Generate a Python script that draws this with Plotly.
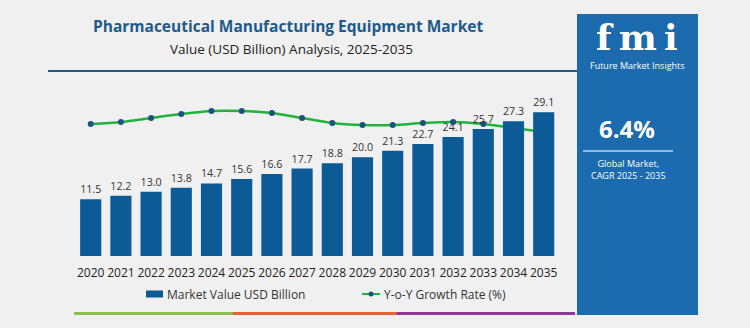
import plotly.graph_objects as go

# Market size and year-on-year growth
years = ["2020", "2021", "2022", "2023", "2024", "2025", "2026", "2027",
         "2028", "2029", "2030", "2031", "2032", "2033", "2034", "2035"]
market_value = [11.5, 12.2, 13.0, 13.8, 14.7, 15.6, 16.6, 17.7,
                18.8, 20.0, 21.3, 22.7, 24.1, 25.7, 27.3, 29.1]
yoy_growth = [6.2, 6.4, 6.8, 7.2, 7.5, 7.5, 7.3, 6.8,
              6.3, 6.1, 6.1, 6.3, 6.4, 6.2, 5.8, 5.4]

cagr_text = "6.4%"

W, H = 750, 328
BG = "#f0f0f0"
BAR = "#0d5b96"
PANEL = "#1b6bae"
GREEN = "#1fb33a"
NAVY = "#1d4f80"
FONT = "Open Sans"


def px(x):
    return x / W


def py(y):
    return 1 - y / H


fig = go.Figure()

# growth line on the primary axis so the bars (overlaying axis) sit above it
fig.add_trace(go.Scatter(
    x=years, y=yoy_growth, mode="lines+markers", yaxis="y",
    line=dict(color=GREEN, width=2.5, shape="spline", smoothing=0.8),
    marker=dict(color=NAVY, size=6),
    showlegend=False, hoverinfo="skip",
))

fig.add_trace(go.Bar(
    x=years, y=market_value, yaxis="y2",
    marker=dict(color=BAR, line=dict(width=0)),
    text=[f"{v:.1f}" for v in market_value], texttemplate="%{text}",
    textposition="outside", cliponaxis=False,
    textfont=dict(family=FONT, size=11, color="#333333"),
    showlegend=False, hoverinfo="skip",
))

shapes = []
annotations = []

# side panel
shapes.append(dict(type="rect", xref="paper", yref="paper",
                   x0=px(577), x1=px(698), y0=py(315), y1=py(14),
                   fillcolor=PANEL, line=dict(width=0), layer="below"))
# rule under the headings
shapes.append(dict(type="line", xref="paper", yref="paper",
                   x0=px(48), x1=px(577), y0=py(71), y1=py(71),
                   line=dict(color="#1d5a8c", width=2)))
# coloured footer rule
for x0, x1, c in [(74, 233, "#8dbf4e"), (233, 397, "#e2633a"), (397, 575, "#8e3b97")]:
    shapes.append(dict(type="line", xref="paper", yref="paper",
                       x0=px(x0), x1=px(x1), y0=py(313.5), y1=py(313.5),
                       line=dict(color=c, width=3)))
# rule under CAGR value
shapes.append(dict(type="line", xref="paper", yref="paper",
                   x0=px(583), x1=px(673), y0=py(151), y1=py(151),
                   line=dict(color="#8fb9e0", width=2)))

# legend
shapes.append(dict(type="rect", xref="paper", yref="paper",
                   x0=px(146), x1=px(163), y0=py(297.5), y1=py(290.5),
                   fillcolor=BAR, line=dict(width=0)))
shapes.append(dict(type="line", xref="paper", yref="paper",
                   x0=px(362), x1=px(380), y0=py(294), y1=py(294),
                   line=dict(color=GREEN, width=2)))
shapes.append(dict(type="circle", xref="paper", yref="paper",
                   x0=px(368.5), x1=px(373.5), y0=py(296.5), y1=py(291.5),
                   fillcolor=NAVY, line=dict(width=0)))
annotations.append(dict(text="Market Value USD Billion", xref="paper", yref="paper",
                        x=px(165), y=py(294), xanchor="left", yanchor="middle",
                        showarrow=False, font=dict(family=FONT, size=12, color="#333333")))
annotations.append(dict(text="Y-o-Y Growth Rate (%)", xref="paper", yref="paper",
                        x=px(382), y=py(294), xanchor="left", yanchor="middle",
                        showarrow=False, font=dict(family=FONT, size=12, color="#333333")))

# headings
annotations.append(dict(text="<b>Pharmaceutical Manufacturing Equipment Market</b>",
                        xref="paper", yref="paper", x=px(288), y=py(26),
                        xanchor="center", yanchor="middle", showarrow=False,
                        font=dict(family=FONT, size=15.5, color="#1d5a8c")))
annotations.append(dict(text="Value (USD Billion) Analysis, 2025-2035",
                        xref="paper", yref="paper", x=px(291), y=py(49),
                        xanchor="center", yanchor="middle", showarrow=False,
                        font=dict(family=FONT, size=13.5, color="#222222")))

# panel logo and figures
annotations.append(dict(text="<b>f\u2009m\u2009i</b>", xref="paper", yref="paper",
                        x=px(637), y=py(37), xanchor="center", yanchor="middle",
                        showarrow=False,
                        font=dict(family="DejaVu Serif", size=36, color="#ffffff")))
for ystripe in range(24, 56, 3):
    shapes.append(dict(type="line", xref="paper", yref="paper",
                       x0=px(588), x1=px(688), y0=py(ystripe), y1=py(ystripe),
                       line=dict(color=PANEL, width=1)))
annotations.append(dict(text="Future Market Insights", xref="paper", yref="paper",
                        x=px(637), y=py(66), xanchor="center", yanchor="middle",
                        showarrow=False, font=dict(family=FONT, size=9, color="#ffffff")))
annotations.append(dict(text=f"<b>{cagr_text}</b>", xref="paper", yref="paper",
                        x=px(627), y=py(128), xanchor="center", yanchor="middle",
                        showarrow=False, font=dict(family=FONT, size=24, color="#ffffff")))
annotations.append(dict(text="Global Market,<br>CAGR 2025 - 2035", xref="paper", yref="paper",
                        x=px(628), y=py(169.5), xanchor="center", yanchor="middle",
                        showarrow=False, align="center",
                        font=dict(family=FONT, size=9, color="#ffffff")))

fig.update_layout(
    width=W, height=H,
    margin=dict(l=0, r=0, t=0, b=0),
    paper_bgcolor=BG, plot_bgcolor=BG,
    bargap=0.3,
    shapes=shapes, annotations=annotations,
    xaxis=dict(domain=[px(75.6), px(558.8)], type="category",
               range=[-0.5, 15.5], showgrid=False, zeroline=False,
               showline=False, ticks="outside", ticklen=6, tickcolor=BG,
               tickfont=dict(family=FONT, size=12, color="#222222")),
    yaxis=dict(domain=[py(256), py(96)], range=[-7, 9], visible=False,
               showgrid=False, zeroline=False),
    yaxis2=dict(domain=[py(256), py(96)], range=[0, 32.4], overlaying="y",
                visible=False, showgrid=False, zeroline=False),
)

fig.write_html("out.html")
